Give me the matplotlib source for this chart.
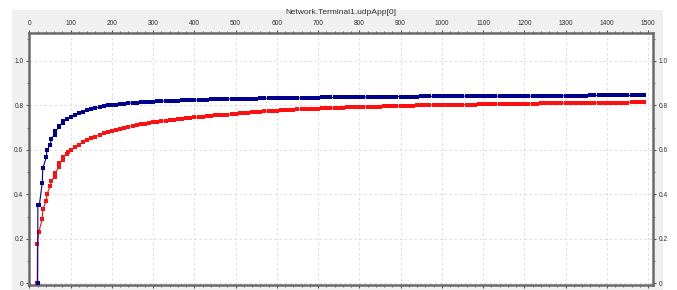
import matplotlib
matplotlib.use('Agg')
import matplotlib.pyplot as plt
import matplotlib.patches as patches
from matplotlib.ticker import MultipleLocator
import numpy as np

plt.rcParams['font.family'] = ['Liberation Sans', 'DejaVu Sans']

title = 'Network.Terminal1.udpApp[0]'

# first samples arrive in close pairs
blue_x0 = [20, 20.5, 24, 31, 32.5, 41, 42.5, 51, 52.5, 61, 62.5, 71, 72.5, 81, 82.5, 91]
blue_y0 = [0.0, 0.35, 0.35, 0.45, 0.518, 0.566, 0.60, 0.623, 0.65, 0.668, 0.683,
           0.701, 0.709, 0.723, 0.731, 0.739]
red_x0 = [19, 19.5, 23, 31, 32.5, 41, 42.5, 51, 52.5, 61, 62.5, 71, 72.5, 81, 82.5, 91, 92.5]
red_y0 = [0.0, 0.176, 0.232, 0.288, 0.333, 0.372, 0.402, 0.438, 0.458, 0.48, 0.495,
          0.522, 0.54, 0.555, 0.57, 0.582, 0.59]

# regular samples, every 10 s from 100 to 1490
t = np.arange(100, 1500, 10)
blue_y = [
    0.750, 0.759, 0.766, 0.772, 0.778, 0.784, 0.788, 0.793, 0.797, 0.800,
    0.802, 0.804, 0.806, 0.808, 0.810, 0.812, 0.813, 0.814, 0.815, 0.816,
    0.817, 0.818, 0.819, 0.820, 0.821, 0.821, 0.822, 0.823, 0.823, 0.824,
    0.825, 0.825, 0.826, 0.826, 0.827, 0.827, 0.828, 0.828, 0.829, 0.829,
    0.830, 0.830, 0.830, 0.831, 0.831, 0.831, 0.832, 0.832, 0.832, 0.833,
    0.833, 0.833, 0.833, 0.834, 0.834, 0.834, 0.834, 0.835, 0.835, 0.835,
    0.835, 0.836, 0.836, 0.836, 0.836, 0.836, 0.837, 0.837, 0.838, 0.838,
    0.838, 0.838, 0.838, 0.839, 0.839, 0.839, 0.839, 0.839, 0.839, 0.840,
    0.840, 0.840, 0.840, 0.840, 0.840, 0.841, 0.841, 0.841, 0.841, 0.841,
    0.841, 0.841, 0.841, 0.841, 0.842, 0.842, 0.842, 0.842, 0.842, 0.842,
    0.842, 0.842, 0.842, 0.842, 0.842, 0.842, 0.842, 0.842, 0.842, 0.842,
    0.842, 0.842, 0.842, 0.842, 0.842, 0.842, 0.842, 0.843, 0.843, 0.843,
    0.843, 0.843, 0.843, 0.843, 0.843, 0.843, 0.845, 0.845, 0.845, 0.845,
    0.845, 0.845, 0.845, 0.845, 0.845, 0.845, 0.845, 0.845, 0.845, 0.845,
]
red_y = [
    0.600, 0.612, 0.624, 0.634, 0.644, 0.652, 0.660, 0.667, 0.674, 0.680,
    0.686, 0.691, 0.696, 0.700, 0.704, 0.708, 0.712, 0.715, 0.718, 0.721,
    0.724, 0.727, 0.729, 0.732, 0.734, 0.736, 0.738, 0.740, 0.742, 0.744,
    0.746, 0.748, 0.750, 0.751, 0.753, 0.755, 0.756, 0.758, 0.759, 0.761,
    0.763, 0.765, 0.767, 0.768, 0.770, 0.771, 0.772, 0.774, 0.775, 0.776,
    0.777, 0.778, 0.779, 0.780, 0.781, 0.782, 0.783, 0.784, 0.785, 0.786,
    0.786, 0.787, 0.788, 0.788, 0.789, 0.789, 0.790, 0.791, 0.791, 0.792,
    0.793, 0.793, 0.794, 0.794, 0.795, 0.795, 0.796, 0.796, 0.797, 0.797,
    0.798, 0.798, 0.799, 0.799, 0.800, 0.800, 0.800, 0.801, 0.801, 0.801,
    0.802, 0.802, 0.802, 0.803, 0.803, 0.803, 0.804, 0.804, 0.804, 0.805,
    0.805, 0.805, 0.806, 0.806, 0.806, 0.806, 0.807, 0.807, 0.807, 0.807,
    0.808, 0.808, 0.808, 0.808, 0.809, 0.809, 0.809, 0.809, 0.810, 0.810,
    0.810, 0.810, 0.811, 0.811, 0.811, 0.811, 0.812, 0.812, 0.812, 0.812,
    0.812, 0.813, 0.813, 0.813, 0.813, 0.813, 0.814, 0.814, 0.814, 0.814,
]

fig = plt.figure(figsize=(6.77, 2.90), dpi=100, facecolor='white')
# grey panel behind the chart
fig.patches.append(patches.Rectangle((12 / 677, 0), (663 - 12) / 677, 1 - 10 / 290,
                                     transform=fig.transFigure, facecolor='#f0f0f0',
                                     edgecolor='none', zorder=-10))

ax = fig.add_axes([29 / 677, 1 - 285 / 290, (653 - 29) / 677, (285 - 33) / 290])
ax.set_facecolor('white')

for xs0, ys0, ys, col in [(red_x0, red_y0, red_y, '#ff1010'),
                          (blue_x0, blue_y0, blue_y, '#00008c')]:
    xs = list(xs0) + list(t)
    yv = list(ys0) + list(ys)
    ax.plot(xs, yv, color=col, lw=0.8, marker='s', markersize=2.6,
            markeredgewidth=0, zorder=3)

ax.set_xlim(-1, 1512)
ax.set_ylim(-0.008, 1.126)

ax.xaxis.set_major_locator(MultipleLocator(100))
ax.xaxis.set_minor_locator(MultipleLocator(20))
ax.yaxis.set_major_locator(MultipleLocator(0.2))
ax.yaxis.set_minor_locator(MultipleLocator(0.1))
ax.xaxis.set_major_formatter(plt.FuncFormatter(lambda v, p: f'{int(v)}'))
ax.yaxis.set_major_formatter(plt.FuncFormatter(lambda v, p: '0' if abs(v) < 1e-9 else f'{v:.1f}'))

ax.tick_params(which='both', top=True, right=True, labeltop=True, labelright=True,
               direction='out', colors='#555555', labelcolor='#333333',
               labelsize=4.8, pad=1.5)
ax.tick_params(which='major', length=2.5, width=0.8)
ax.tick_params(which='minor', length=1.5, width=0.6)

ax.grid(True, which='major', color='#d8d8d8', linestyle=(0, (3, 3)), lw=0.6)
for s in ax.spines.values():
    s.set_color('#6a6a6a')
    s.set_linewidth(1.8)

fig.text(341 / 677, 1 - 13 / 290, title, ha='center', va='center',
         fontsize=6.0, color='#333333')

plt.savefig('out.png', dpi=100, facecolor='white')
plt.close()
